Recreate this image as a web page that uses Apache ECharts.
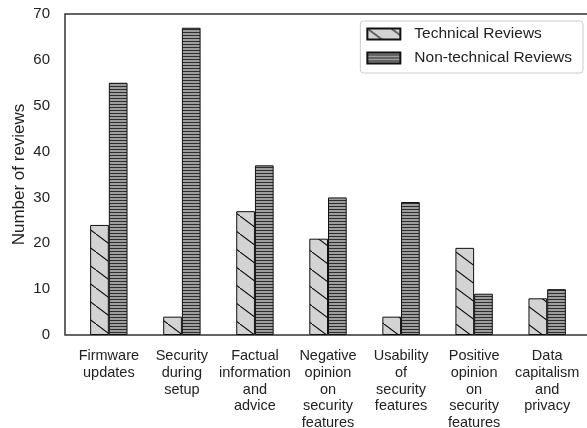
<!DOCTYPE html>
<html>
<head>
<meta charset="utf-8">
<script src="https://cdn.jsdelivr.net/npm/echarts@6/dist/echarts.min.js"></script>
<style>
html,body{margin:0;padding:0;background:#fff;}
#chart{width:587px;height:428px;}
</style>
</head>
<body>
<div id="chart"></div>
<script>
const categories = [
  "Firmware\nupdates",
  "Security\nduring\nsetup",
  "Factual\ninformation\nand\nadvice",
  "Negative\nopinion\non\nsecurity\nfeatures",
  "Usability\nof\nsecurity\nfeatures",
  "Positive\nopinion\non\nsecurity\nfeatures",
  "Data\ncapitalism\nand\nprivacy"
];
const technicalReviews = [24, 4, 27, 21, 4, 19, 8];
const nonTechnicalReviews = [55, 67, 37, 30, 29, 9, 10];
const yTicks = [0, 10, 20, 30, 40, 50, 60, 70];

function makeHatch() {
  const c = document.createElement('canvas');
  c.width = 24; c.height = 18;
  const g = c.getContext('2d');
  g.fillStyle = '#d3d3d3';
  g.fillRect(0, 0, 24, 18);
  g.strokeStyle = '#111';
  g.lineWidth = 1.1;
  g.beginPath();
  g.moveTo(-8, -6); g.lineTo(32, 24);
  g.stroke();
  return c;
}
function makeStripes() {
  const c = document.createElement('canvas');
  c.width = 4; c.height = 3;
  const g = c.getContext('2d');
  g.fillStyle = '#9d9d9d';
  g.fillRect(0, 0, 4, 3);
  g.fillStyle = '#2e2e2e';
  g.fillRect(0, 2, 4, 1);
  return c;
}

const catIdx = categories.map((_, i) => i);
const chart = echarts.init(document.getElementById('chart'));
const fontFam = '"Liberation Sans", Arial, Helvetica, sans-serif';

chart.setOption({
  animation: false,
  textStyle: { fontFamily: fontFam },
  grid: { left: 65, right: -4, top: 14, bottom: 93, show: true, borderColor: '#333', borderWidth: 1.5,
    backgroundColor: 'transparent', containLabel: false, outerBoundsMode: 'none' },
  legend: {
    orient: 'vertical',
    right: 4, top: 21,
    padding: [5, 11, 7, 6],
    itemWidth: 33, itemHeight: 11, itemGap: 8,
    icon: 'rect',
    borderColor: '#cccccc', borderWidth: 1, borderRadius: 3,
    textStyle: { fontSize: 15.5, lineHeight: 16, color: '#222', fontFamily: fontFam, padding: [0, 0, 0, 9] },
    data: ['Technical Reviews', 'Non-technical Reviews']
  },
  xAxis: {
    type: 'value',
    min: -0.6, max: 6.6,
    splitLine: { show: false },
    axisLine: { show: false },
    axisTick: { show: false },
    axisLabel: {
      customValues: catIdx,
      formatter: v => categories[Math.round(v)],
      fontSize: 14.5, lineHeight: 16.7, color: '#222', margin: 13,
      verticalAlign: 'top', align: 'center', fontFamily: fontFam,
      showMinLabel: true, showMaxLabel: true, hideOverlap: false
    }
  },
  yAxis: {
    type: 'value',
    min: 0, max: 70, interval: 10,
    name: 'Number of reviews',
    nameLocation: 'middle', nameGap: 37, nameMoveOverlap: false,
    nameTextStyle: { fontSize: 17, color: '#222', fontFamily: fontFam },
    splitLine: { show: false },
    axisLine: { show: false },
    axisTick: { show: false },
    axisLabel: { fontSize: 15, color: '#222', margin: 15, fontFamily: fontFam,
      formatter: v => yTicks.includes(v) ? String(v) : '' }
  },
  series: [
    {
      name: 'Technical Reviews', type: 'bar',
      data: technicalReviews.map((v, i) => [i, v]),
      barWidth: 18.7, barGap: '0%',
      itemStyle: { color: { image: makeHatch(), repeat: 'repeat' }, borderColor: '#111', borderWidth: 1 }
    },
    {
      name: 'Non-technical Reviews', type: 'bar',
      data: nonTechnicalReviews.map((v, i) => [i, v]),
      barWidth: 18.7, barGap: '0%',
      itemStyle: { color: { image: makeStripes(), repeat: 'repeat' }, borderColor: '#111', borderWidth: 1 }
    }
  ]
});
</script>
</body>
</html>
